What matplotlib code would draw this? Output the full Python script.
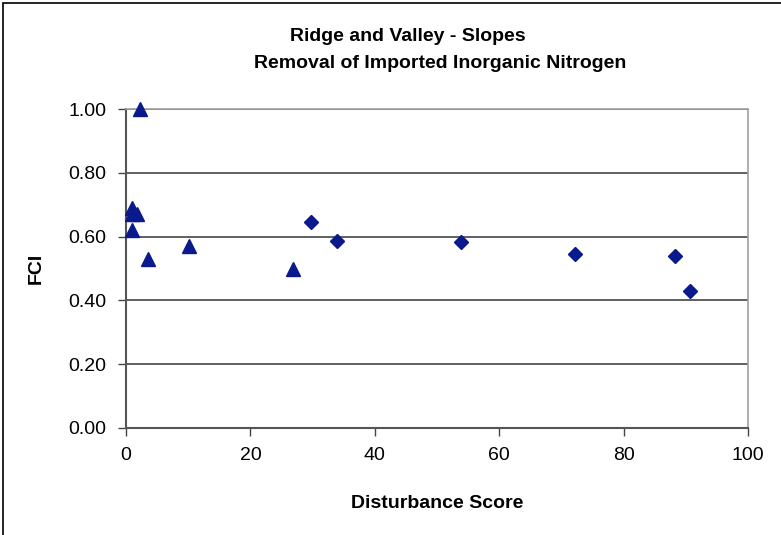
import numpy as np
import matplotlib
matplotlib.use("Agg")
import matplotlib.pyplot as plt
from matplotlib.patches import Rectangle

# reference sites (triangles) and other sites (diamonds)
ref_x = [2.2, 1.0, 0.9, 1.8, 1.0, 3.5, 10.2, 26.9]
ref_y = [1.00, 0.69, 0.67, 0.67, 0.62, 0.53, 0.57, 0.50]
site_x = [29.8, 34.0, 53.8, 72.2, 88.2, 90.7]
site_y = [0.645, 0.587, 0.582, 0.545, 0.539, 0.430]

title_1 = "Ridge and Valley - Slopes"
title_2 = "Removal of Imported Inorganic Nitrogen"
x_label = "Disturbance Score"
y_label = "FCI"

plt.rcParams['font.family'] = ['Liberation Sans', 'DejaVu Sans']

fig = plt.figure(figsize=(7.81, 5.35), dpi=100)
ax = fig.add_axes([126 / 781, 1 - 428 / 535, (748 - 126) / 781, (428 - 109) / 535])

mk_color = '#0a1a8c'
ax.plot(ref_x, ref_y, linestyle='none', marker='^', markersize=10,
        color=mk_color, zorder=3, clip_on=False)
ax.plot(site_x, site_y, linestyle='none', marker='D', markersize=7,
        color=mk_color, zorder=3, clip_on=False)

ax.set_xlim(0, 100)
ax.set_ylim(0, 1)
ax.set_xticks(np.arange(0, 101, 20))
ax.set_yticks(np.arange(0, 1.01, 0.2))
ax.set_yticklabels([f"{v:.2f}" for v in np.arange(0, 1.01, 0.2)])
ax.tick_params(labelsize=14, length=6, width=1, color='#444444', pad=8)

ax.yaxis.grid(True, color='#444444', linewidth=1.2)
ax.set_axisbelow(True)
for side in ['left', 'bottom']:
    ax.spines[side].set_color('#555555')
    ax.spines[side].set_linewidth(1.5)
for side in ['top', 'right']:
    ax.spines[side].set_color('#a0a0a0')
    ax.spines[side].set_linewidth(1.2)

ax.set_xlabel(x_label, fontsize=14, fontweight='bold', labelpad=22)
ax.set_ylabel(y_label, fontsize=14, fontweight='bold', labelpad=17)
fig.text(408 / 781, 1 - 37 / 535, title_1, ha='center', va='center',
         fontsize=14, fontweight='bold')
fig.text(440 / 781, 1 - 63 / 535, title_2, ha='center', va='center',
         fontsize=14, fontweight='bold')

# chart frame (only left/top visible in reference)
fig.patches.append(Rectangle((3 / 781, -0.1), 1.2, 1 - 3 / 535 + 0.1,
                             transform=fig.transFigure, fill=False,
                             edgecolor='black', linewidth=1.2))

fig.savefig('out.png', dpi=100)
